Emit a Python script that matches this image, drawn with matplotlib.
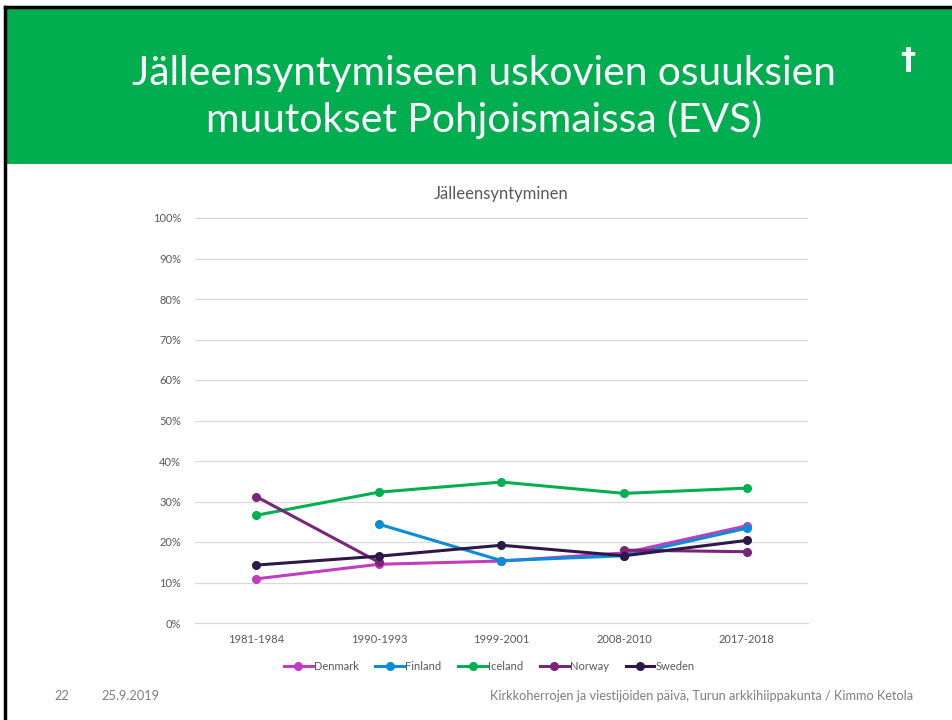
import numpy as np
import matplotlib.pyplot as plt
from matplotlib.patches import Rectangle
from matplotlib.lines import Line2D

# --- DATOS ---
periods = ["1981-1984", "1990-1993", "1999-2001", "2008-2010", "2017-2018"]
denmark = [10.9, 14.5, 15.3, 17.3, 24.0]
finland = [np.nan, 24.4, 15.4, 16.6, 23.4]
iceland = [26.6, 32.3, 34.8, 32.0, 33.3]
norway = [31.2, 15.0, np.nan, 18.0, 17.6]
sweden = [14.3, 16.5, 19.2, 16.6, 20.4]
series_names = ["Denmark", "Finland", "Iceland", "Norway", "Sweden"]
series_colors = ["#C23CC0", "#0A8CD6", "#00B050", "#7A2577", "#2E1848"]

title = "Jälleensyntymiseen uskovien osuuksien\nmuutokset Pohjoismaissa (EVS)"
chart_title = "Jälleensyntyminen"
footer_num = "22"
footer_date = "25.9.2019"
footer_text = "Kirkkoherrojen ja viestijöiden päivä, Turun arkkihiippakunta / Kimmo Ketola"

plt.rcParams['font.family'] = ['Lato', 'DejaVu Sans']

fig = plt.figure(figsize=(9.53, 7.2), dpi=100)
W, H = 953, 720

def fx(px):
    return px / W

def fy(py):
    return 1 - py / H

# cabeceira verde
fig.patches.append(Rectangle((fx(6), fy(164)), 1 - fx(6), (164 - 8) / H,
                             transform=fig.transFigure, facecolor="#00AE4F",
                             edgecolor="none", zorder=0))
fig.add_artist(Line2D([fx(5), 1], [fy(7), fy(7)], color="black", lw=2.5,
                      transform=fig.transFigure))
fig.add_artist(Line2D([fx(5.5), fx(5.5)], [fy(7), 0], color="black", lw=2.5,
                      transform=fig.transFigure))

fig.text(fx(484), fy(97), title, color="white", fontsize=29.3, ha="center",
         va="center", linespacing=1.25)
fig.text(fx(908), fy(61), "†", color="white", fontsize=22, ha="center",
         va="center", fontweight="bold", family=["DejaVu Sans"])

# --- GRÁFICO ---
ax = fig.add_axes([fx(195), fy(623), (808 - 195) / W, (623 - 218) / H])
x = np.arange(len(periods))
data = [denmark, finland, iceland, norway, sweden]
for vals, name, col in zip(data, series_names, series_colors):
    ax.plot(x, vals, color=col, lw=2.2, marker="o", markersize=5.5, label=name)

ax.set_xlim(-0.5, len(periods) - 0.5)
ax.set_ylim(0, 100)
ax.set_yticks(np.arange(0, 101, 10))
ax.set_yticklabels([f"{v}%" for v in range(0, 101, 10)])
ax.set_xticks(x)
ax.set_xticklabels(periods)
ax.grid(axis="y", color="#D9D9D9", lw=0.9)
ax.set_axisbelow(True)
for s in ["top", "right", "left"]:
    ax.spines[s].set_visible(False)
ax.spines["bottom"].set_color("#D9D9D9")
ax.tick_params(length=0, labelsize=8, colors="#595959")
ax.tick_params(axis="y", pad=10)
ax.tick_params(axis="x", pad=8)
ax.set_title(chart_title, fontsize=12, color="#595959", pad=14)

leg = ax.legend(loc="upper center", bbox_to_anchor=(0.48, -0.068), ncol=5,
                frameon=False, fontsize=8, handlelength=2.6, handletextpad=0.1,
                columnspacing=1.5, labelcolor="#595959")

# --- PÉ ---
fig.text(fx(62), fy(696), footer_num, fontsize=9.2, color="#7F7F7F",
         ha="center", va="center")
fig.text(fx(101), fy(696), footer_date, fontsize=9.2, color="#7F7F7F",
         ha="left", va="center")
fig.text(fx(913), fy(696), footer_text, fontsize=9.2, color="#7F7F7F",
         ha="right", va="center")

fig.savefig("out.png", dpi=100)
